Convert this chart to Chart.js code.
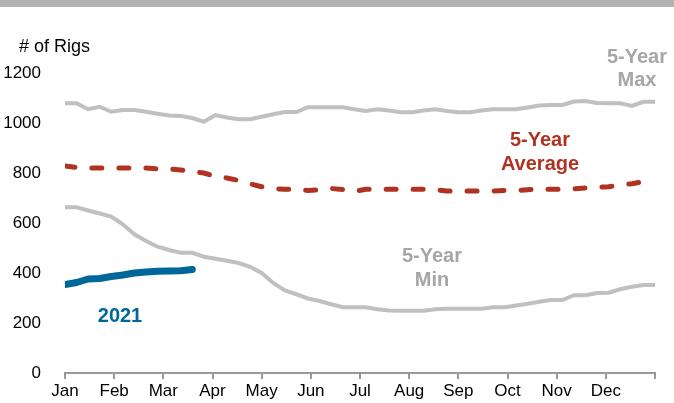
<!DOCTYPE html>
<html>
<head>
    <title>Rig Count</title>
    <script src="https://cdn.jsdelivr.net/npm/chart.js"></script>
    <style>
        body { margin: 0; background: #fff; }
        #wrap { width: 674px; height: 403px; }
    </style>
</head>
<body>
    <div id="wrap"><canvas id="myChart"></canvas></div>
    <script>
        // month tick labels (ticks sit on month boundaries)
        var months = ["Jan", "Feb", "Mar", "Apr", "May", "Jun", "Jul", "Aug", "Sep", "Oct", "Nov", "Dec", ""];
        var yTicks = [0, 200, 400, 600, 800, 1000, 1200];

        // weekly values, 52 weeks
        var max5 = [1079, 1079, 1055, 1065, 1045, 1052, 1052, 1045, 1037, 1030,
                    1028, 1020, 1005, 1032, 1022, 1015, 1015, 1025, 1035, 1044,
                    1044, 1063, 1063, 1063, 1063, 1055, 1048, 1055, 1050, 1043,
                    1043, 1050, 1055, 1048, 1043, 1043, 1050, 1055, 1055, 1055,
                    1062, 1070, 1072, 1072, 1086, 1088, 1080, 1079, 1079, 1068,
                    1085, 1085];
        var avg5 = [828, 822, 820, 820, 820, 820, 820, 820, 816, 816,
                    812, 805, 800, 786, 780, 770, 757, 745, 737, 735,
                    735, 730, 733, 738, 734, 726, 735, 735, 735, 735,
                    735, 735, 733, 728, 728, 728, 728, 728, 730, 730,
                    733, 735, 735, 735, 737, 740, 743, 745, 752, 757,
                    766, 769];
        var min5 = [663, 663, 650, 638, 626, 595, 555, 528, 505, 492,
                    481, 481, 465, 457, 449, 440, 425, 400, 360, 330,
                    315, 298, 288, 275, 263, 263, 263, 255, 250, 249,
                    249, 249, 255, 257, 257, 257, 257, 263, 263, 270,
                    277, 285, 292, 292, 311, 311, 320, 321, 335, 345,
                    352, 352];
        var rigs2021 = [354, 362, 376, 378, 386, 392, 400, 404, 407, 408, 409, 414];

        var WEEKS = 52;

        function pts(arr) {
            return arr.map(function (v, i) { return { x: i, y: v }; });
        }

        // top grey band + text labels
        var decor = {
            id: 'decor',
            beforeDraw: function (chart) {
                var c = chart.ctx;
                c.save();
                c.fillStyle = '#b3b3b3';
                c.fillRect(0, 0, chart.width, 7);
                c.restore();
            },
            afterDraw: function (chart) {
                var c = chart.ctx;
                c.save();
                c.textAlign = 'left';
                c.textBaseline = 'middle';
                c.fillStyle = '#000';
                c.font = '18px "Liberation Sans", Arial, sans-serif';
                c.fillText('# of Rigs', 19, 47);

                c.textAlign = 'center';
                c.font = 'bold 20px "Liberation Sans", Arial, sans-serif';
                c.fillStyle = '#a6a6a6';
                c.fillText('5-Year', 637, 57);
                c.fillText('Max', 637, 80);
                c.fillText('5-Year', 432, 256);
                c.fillText('Min', 432, 280);
                c.fillStyle = '#b03322';
                c.fillText('5-Year', 540, 140);
                c.fillText('Average', 540, 164);
                c.fillStyle = '#00679a';
                c.fillText('2021', 120, 316);
                c.restore();
            }
        };

        var ctx = document.getElementById('myChart').getContext('2d');
        var myChart = new Chart(ctx, {
            type: 'line',
            data: {
                datasets: [
                    {
                        label: '2021',
                        data: pts(rigs2021),
                        borderColor: '#00679a',
                        borderWidth: 7,
                        borderCapStyle: 'round',
                        borderJoinStyle: 'round',
                        pointRadius: 0,
                        order: 0
                    },
                    {
                        label: '5-Year Average',
                        data: pts(avg5),
                        borderColor: '#b03322',
                        borderWidth: 5,
                        borderDash: [10, 17],
                        borderCapStyle: 'round',
                        pointRadius: 0,
                        order: 1
                    },
                    {
                        label: '5-Year Max',
                        data: pts(max5),
                        borderColor: '#c0c0c0',
                        borderWidth: 4,
                        pointRadius: 0,
                        order: 2
                    },
                    {
                        label: '5-Year Min',
                        data: pts(min5),
                        borderColor: '#c0c0c0',
                        borderWidth: 4,
                        pointRadius: 0,
                        order: 2
                    }
                ]
            },
            options: {
                responsive: true,
                maintainAspectRatio: false,
                animation: false,
                layout: { padding: { top: 73, right: 19, left: 0, bottom: 0 } },
                plugins: {
                    legend: { display: false },
                    tooltip: { enabled: false }
                },
                elements: { line: { tension: 0 } },
                scales: {
                    x: {
                        type: 'linear',
                        min: 0,
                        max: WEEKS - 1,
                        afterBuildTicks: function (scale) {
                            scale.ticks = months.map(function (m, i) {
                                return { value: i * (WEEKS - 1) / 12 };
                            });
                        },
                        afterFit: function (scale) { scale.height = 30; },
                        grid: {
                            drawOnChartArea: false,
                            drawTicks: true,
                            tickLength: 6,
                            color: '#999',
                            lineWidth: 2
                        },
                        border: { display: true, color: '#999', width: 2 },
                        ticks: {
                            autoSkip: false,
                            maxRotation: 0,
                            padding: 2,
                            color: '#000',
                            font: { family: '"Liberation Sans", Arial, sans-serif', size: 17 },
                            callback: function (v, i) { return months[i]; }
                        }
                    },
                    y: {
                        min: 0,
                        max: 1200,
                        afterBuildTicks: function (scale) {
                            scale.ticks = yTicks.map(function (v) { return { value: v }; });
                        },
                        afterFit: function (scale) { scale.width = 65; },
                        grid: { display: false },
                        border: { display: false },
                        ticks: {
                            padding: 16,
                            color: '#000',
                            font: { family: '"Liberation Sans", Arial, sans-serif', size: 17 },
                            callback: function (v) { return String(v); }
                        }
                    }
                }
            },
            plugins: [decor]
        });
    </script>
</body>
</html>
